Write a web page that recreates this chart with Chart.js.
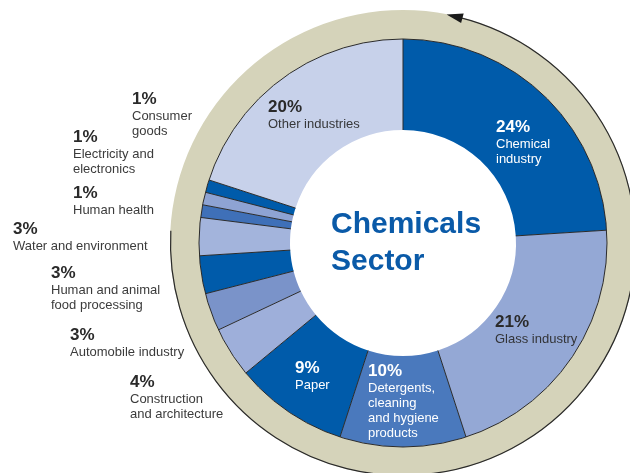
<!DOCTYPE html>
<html>
<head>
<meta charset="utf-8">
<title>Chemicals Sector</title>
<script src="https://cdn.jsdelivr.net/npm/chart.js@4"></script>
<style>
  html, body { margin: 0; padding: 0; background: #fff; overflow: hidden; width: 630px; height: 473px; }
  #sector_chart { position: absolute; left: 0; top: 0; }
</style>
</head>
<body>
<canvas id="sector_chart" width="660" height="480"></canvas>
<script>
// market share of the chemicals sector by customer industry, clockwise from the top
const sectors = [
	['Chemical', 'industry'],
	['Glass industry'],
	['Detergents,', 'cleaning', 'and hygiene', 'products'],
	['Paper'],
	['Construction', 'and architecture'],
	['Automobile industry'],
	['Human and animal', 'food processing'],
	['Water and environment'],
	['Human health'],
	['Electricity and', 'electronics'],
	['Consumer', 'goods'],
	['Other industries']
];
const shares = [24, 21, 10, 9, 4, 3, 3, 3, 1, 1, 1, 20];
const sectorColors = ['#005baa', '#94a8d5', '#4a79bd', '#005baa', '#9eafda', '#7a93c9', '#005baa',
	'#a3b4dc', '#3f70b8', '#8ea3d3', '#005baa', '#c7d1ea'];
const centerTitle = ['Chemicals', 'Sector'];

// where each label block sits: left x and baseline of the percentage line
const labelAnchors = [[496, 132], [495, 327], [368, 376], [295, 373], [130, 387], [70, 340],
	[51, 278], [13, 234], [73, 198], [73, 142], [132, 104], [268, 112]];
const labelInk = ['#fff', '#2a2a2a', '#fff', '#fff', '#2a2a2a', '#2a2a2a', '#2a2a2a',
	'#2a2a2a', '#2a2a2a', '#2a2a2a', '#2a2a2a', '#2a2a2a'];

const FONT = '"Liberation Sans", Arial, Helvetica, sans-serif';

const ringOutline = {
	id: 'ringOutline',
	afterDatasetsDraw(chart) {
		const ctx = chart.ctx;
		const arcs = chart.getDatasetMeta(1).data;
		const band = chart.getDatasetMeta(0).data[0];
		const cx = arcs[0].x, cy = arcs[0].y;
		ctx.save();
		ctx.strokeStyle = '#2a2a2a';
		ctx.lineWidth = 1;
		// slice separators
		arcs.forEach(arc => {
			const a = arc.startAngle;
			ctx.beginPath();
			ctx.moveTo(cx + Math.cos(a) * arc.innerRadius, cy + Math.sin(a) * arc.innerRadius);
			ctx.lineTo(cx + Math.cos(a) * arc.outerRadius, cy + Math.sin(a) * arc.outerRadius);
			ctx.stroke();
		});
		ctx.beginPath();
		ctx.arc(cx, cy, arcs[0].outerRadius, 0, Math.PI * 2);
		ctx.stroke();

		// arrow running round the outside of the beige band
		const deg = d => (d - 90) * Math.PI / 180;
		const r = band.outerRadius - 0.5;
		ctx.lineWidth = 1.2;
		ctx.beginPath();
		ctx.arc(cx, cy, r, deg(14), deg(273));
		ctx.stroke();
		const pt = (rad, d) => [cx + Math.cos(deg(d)) * rad, cy + Math.sin(deg(d)) * rad];
		const tip = pt(r, 10.8), b1 = pt(r + 5, 14.8), b2 = pt(r - 5, 14.8);
		ctx.fillStyle = '#1a1a1a';
		ctx.beginPath();
		ctx.moveTo(tip[0], tip[1]);
		ctx.lineTo(b1[0], b1[1]);
		ctx.lineTo(b2[0], b2[1]);
		ctx.closePath();
		ctx.fill();
		ctx.restore();
	}
};

const sectorLabels = {
	id: 'sectorLabels',
	afterDraw(chart) {
		const ctx = chart.ctx;
		const labels = chart.data.labels;
		const values = chart.data.datasets[1].data;
		ctx.save();
		ctx.textAlign = 'left';
		ctx.textBaseline = 'alphabetic';
		labels.forEach((lines, i) => {
			const [x, y] = labelAnchors[i];
			ctx.fillStyle = labelInk[i];
			ctx.font = 'bold 17px ' + FONT;
			ctx.fillText(values[i] + '%', x, y);
			ctx.font = '13px ' + FONT;
			ctx.globalAlpha = labelInk[i] === '#fff' ? 1 : 0.92;
			lines.forEach((line, k) => ctx.fillText(line, x, y + 16 + k * 15));
			ctx.globalAlpha = 1;
		});
		// title in the hole
		ctx.fillStyle = '#0a5aa8';
		ctx.font = 'bold 30px ' + FONT;
		centerTitle.forEach((line, k) => ctx.fillText(line, 331, 233 + k * 37));
		ctx.restore();
	}
};

new Chart(document.getElementById('sector_chart'), {
	type: 'doughnut',
	data: {
		labels: sectors,
		datasets: [{
			data: [100],
			backgroundColor: '#d5d3ba',
			borderWidth: 0,
			hoverOffset: 0,
			weight: 29
		}, {
			data: shares,
			backgroundColor: sectorColors,
			borderWidth: 0,
			hoverOffset: 0,
			weight: 91
		}]
	},
	options: {
		responsive: false,
		animation: false,
		events: [],
		cutout: '48.5%',
		layout: {
			padding: { left: 170, top: 10, right: 24, bottom: 4 }
		},
		plugins: {
			legend: { display: false },
			tooltip: { enabled: false }
		}
	},
	plugins: [ringOutline, sectorLabels]
});
</script>
</body>
</html>
